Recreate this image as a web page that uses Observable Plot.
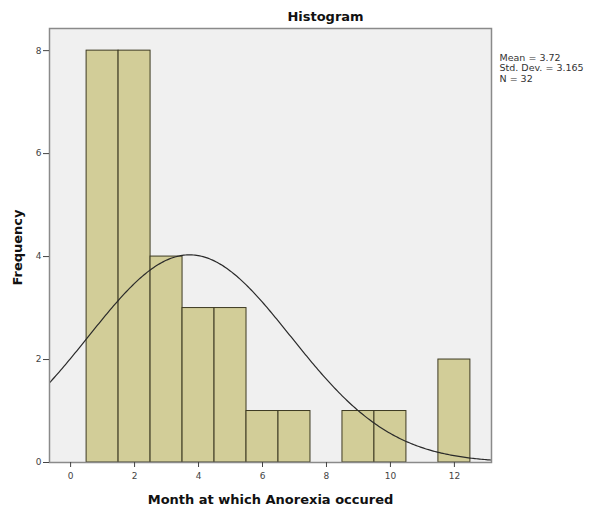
<!DOCTYPE html>
<html>
<head>
<meta charset="utf-8">
<script src="https://cdn.jsdelivr.net/npm/d3@7"></script>
<script src="https://cdn.jsdelivr.net/npm/@observablehq/plot@0.6"></script>
<style>
  html, body { margin: 0; padding: 0; background: #fff; }
  #chart svg { display: block; }
</style>
</head>
<body>
<div id="chart"></div>
<script>
// Data
const months = [1, 2, 3, 4, 5, 6, 7, 8, 9, 10, 11, 12];
const counts = [8, 8, 4, 3, 3, 1, 1, 0, 1, 1, 0, 2];
const xTicks = [0, 2, 4, 6, 8, 10, 12];
const yTicks = [0, 2, 4, 6, 8];
const statLabels = ["Mean = 3.72", "Std. Dev. = 3.165", "N = 32"];
const meanVal = 3.72;
const sdVal = 3.165;
const nVal = 32;
const binWidth = 1;

const bins = months.map((m, i) => ({x1: m - binWidth / 2, x2: m + binWidth / 2, count: counts[i]}));

const xDomain = [-0.66, 13.16];
const curve = d3.range(xDomain[0], xDomain[1] + 0.001, 0.05).map(x => ({
  x,
  y: nVal * binWidth / (sdVal * Math.sqrt(2 * Math.PI)) * Math.exp(-0.5 * ((x - meanVal) / sdVal) ** 2)
}));

const chart = Plot.plot({
  width: 590,
  height: 517,
  marginLeft: 49,
  marginRight: 99,
  marginTop: 28,
  marginBottom: 55,
  style: {fontFamily: "'DejaVu Sans', sans-serif", background: "#fff"},
  x: {domain: xDomain, ticks: xTicks, label: null},
  y: {domain: [0, 8.43], ticks: yTicks, label: null},
  marks: [
    Plot.frame({fill: "#f0f0f0", stroke: "none"}),
    Plot.rectY(bins.filter(d => d.count > 0), {x1: "x1", x2: "x2", y: "count", fill: "#d2cd98", stroke: "#3d3a22", strokeWidth: 1}),
    Plot.line(curve, {x: "x", y: "y", stroke: "#2a2a2a", strokeWidth: 1.2, clip: true}),
    Plot.frame({stroke: "#8a8a8a", strokeWidth: 1.5}),
    Plot.axisY({ticks: yTicks, tickSize: 6, tickPadding: 2, fontSize: 9, color: "#444", label: null}),
    Plot.axisX({ticks: xTicks, tickSize: 5, tickPadding: 5, fontSize: 9, color: "#444", label: null}),
    Plot.text(["Histogram"], {frameAnchor: "top", dy: -17, dx: 55, fontSize: 13, fontWeight: "bold", fill: "#111"}),
    Plot.text(["Month at which Anorexia occured"], {frameAnchor: "bottom", dy: 41, fontSize: 13, fontWeight: "bold", fill: "#111"}),
    Plot.text(["Frequency"], {frameAnchor: "left", dx: -32, dy: 2, rotate: -90, textAnchor: "middle", fontSize: 13, fontWeight: "bold", fill: "#111"}),
    Plot.text([statLabels.join("\n")], {frameAnchor: "top-right", dx: 8, dy: 25, textAnchor: "start", lineAnchor: "top", lineHeight: 1.1, fontSize: 9.5, fill: "#333"})
  ]
});
document.getElementById("chart").append(chart);
</script>
</body>
</html>
